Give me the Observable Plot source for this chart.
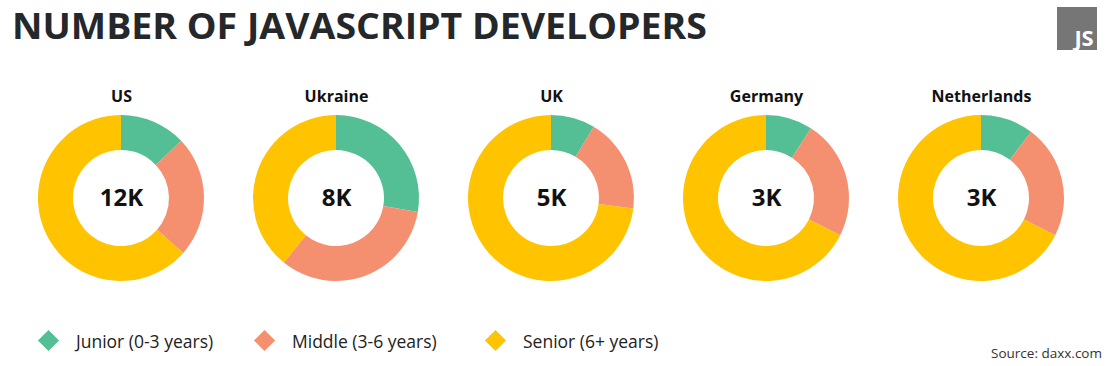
<!DOCTYPE html>
<html>
<head>
<meta charset="utf-8">
<script src="https://cdn.jsdelivr.net/npm/d3@7"></script>
<script src="https://cdn.jsdelivr.net/npm/@observablehq/plot@0.6"></script>
<style>
  html, body { margin: 0; padding: 0; background: #fff; }
  body { width: 1110px; height: 366px; position: relative; overflow: hidden; font-family: "Open Sans", sans-serif; }
  #title { position: absolute; left: 12px; top: 0px; height: 70px; font-weight: 700; font-size: 35px; color: #25282b; white-space: nowrap; transform-origin: 0 0; line-height: 52px; }
  #logo { position: absolute; left: 1057px; top: 7px; width: 40px; height: 43px; background: #767676; }
  #logo span { position: absolute; right: 4px; bottom: 1px; color: #fff; font-size: 22px; font-weight: 700; line-height: 24px; letter-spacing: -0.5px; }
  #chart { position: absolute; left: 0; top: 70px; }
  #legend { position: absolute; left: 0; top: 310px; width: 1110px; height: 56px; }
  .item { position: absolute; top: 20px; height: 22px; }
  .sw { position: absolute; width: 15px; height: 15px; transform: rotate(45deg); top: 3px; }
  .lab { position: absolute; top: 0px; font-size: 17.5px; color: #222; white-space: nowrap; line-height: 22px; }
  #source { position: absolute; right: 8px; top: 34px; font-size: 13.5px; color: #333; white-space: nowrap; }
</style>
</head>
<body>
<div id="title">NUMBER OF JAVASCRIPT DEVELOPERS</div>
<div id="logo"><span>JS</span></div>
<div id="chart"></div>
<div id="legend"></div>
<script>
// ---- data ----
const countries = ["US", "Ukraine", "UK", "Germany", "Netherlands"];
const totals = ["12K", "8K", "5K", "3K", "3K"];
const levels = ["Junior (0-3 years)", "Middle (3-6 years)", "Senior (6+ years)"];
const juniorShare = [12.9, 27.7, 8.6, 9.1, 10.3];
const middleShare = [23.6, 33.1, 18.4, 23.3, 22.1];
const seniorShare = [63.5, 39.2, 73.0, 67.6, 67.6];
const levelColors = ["#54bf94", "#f4906f", "#ffc300"];
const sourceText = "Source: daxx.com";

// fit title width
const titleEl = document.getElementById("title");
const tw = titleEl.getBoundingClientRect().width;
titleEl.style.transform = `scaleX(${695 / tw})`;

const shares = [juniorShare, middleShare, seniorShare];
const rows = [];
countries.forEach((c, i) => levels.forEach((l, j) => rows.push({country: c, level: l, value: shares[j][i]})));
const centers = countries.map((c, i) => ({country: c, total: totals[i]}));

const innerR = 48, outerR = 83, cyOffset = 8;

function donutMark(data) {
  return (index, scales, values, dimensions) => {
    const g = d3.create("svg:g");
    const cy = (dimensions.height - dimensions.marginTop - dimensions.marginBottom) / 2 + dimensions.marginTop + cyOffset;
    const arc = d3.arc().innerRadius(innerR).outerRadius(outerR);
    for (const c of countries) {
      const sub = data.filter(d => d.country === c);
      const arcs = d3.pie().sort(null).value(d => d.value)(sub);
      const cg = g.append("g").attr("transform", `translate(${scales.x(c)},${cy})`);
      cg.selectAll("path").data(arcs).join("path")
        .attr("d", arc)
        .attr("fill", d => scales.color(d.data.level));
    }
    return g.node();
  };
}

const chart = Plot.plot({
  width: 1110,
  height: 240,
  marginLeft: 120,
  marginRight: 128,
  marginTop: 0,
  marginBottom: 0,
  x: {type: "point", domain: countries, axis: null, padding: 0},
  color: {domain: levels, range: levelColors},
  style: {fontFamily: "Open Sans, sans-serif", background: "transparent"},
  marks: [
    Plot.dot(rows, {x: "country", fill: "level", r: 0}),
    donutMark(rows),
    Plot.text(countries, {x: d => d, frameAnchor: "top", dy: 20, text: d => d, fontWeight: 700, fontSize: 16, fill: "#111"}),
    Plot.text(centers, {x: "country", frameAnchor: "middle", dy: cyOffset, text: "total", fontWeight: 700, fontSize: 24, fill: "#111"})
  ]
});
document.getElementById("chart").appendChild(chart);

// legend
const legendX = [48, 264, 495];
const legend = d3.select("#legend");
levels.forEach((l, i) => {
  const item = legend.append("div").attr("class", "item").style("left", "0px");
  item.append("div").attr("class", "sw").style("left", (legendX[i] - 7.5) + "px").style("background", chart.scale("color").apply(l));
  item.append("div").attr("class", "lab").style("left", (legendX[i] + 28) + "px").text(l);
});
legend.append("div").attr("id", "source").text(sourceText);
</script>
</body>
</html>
